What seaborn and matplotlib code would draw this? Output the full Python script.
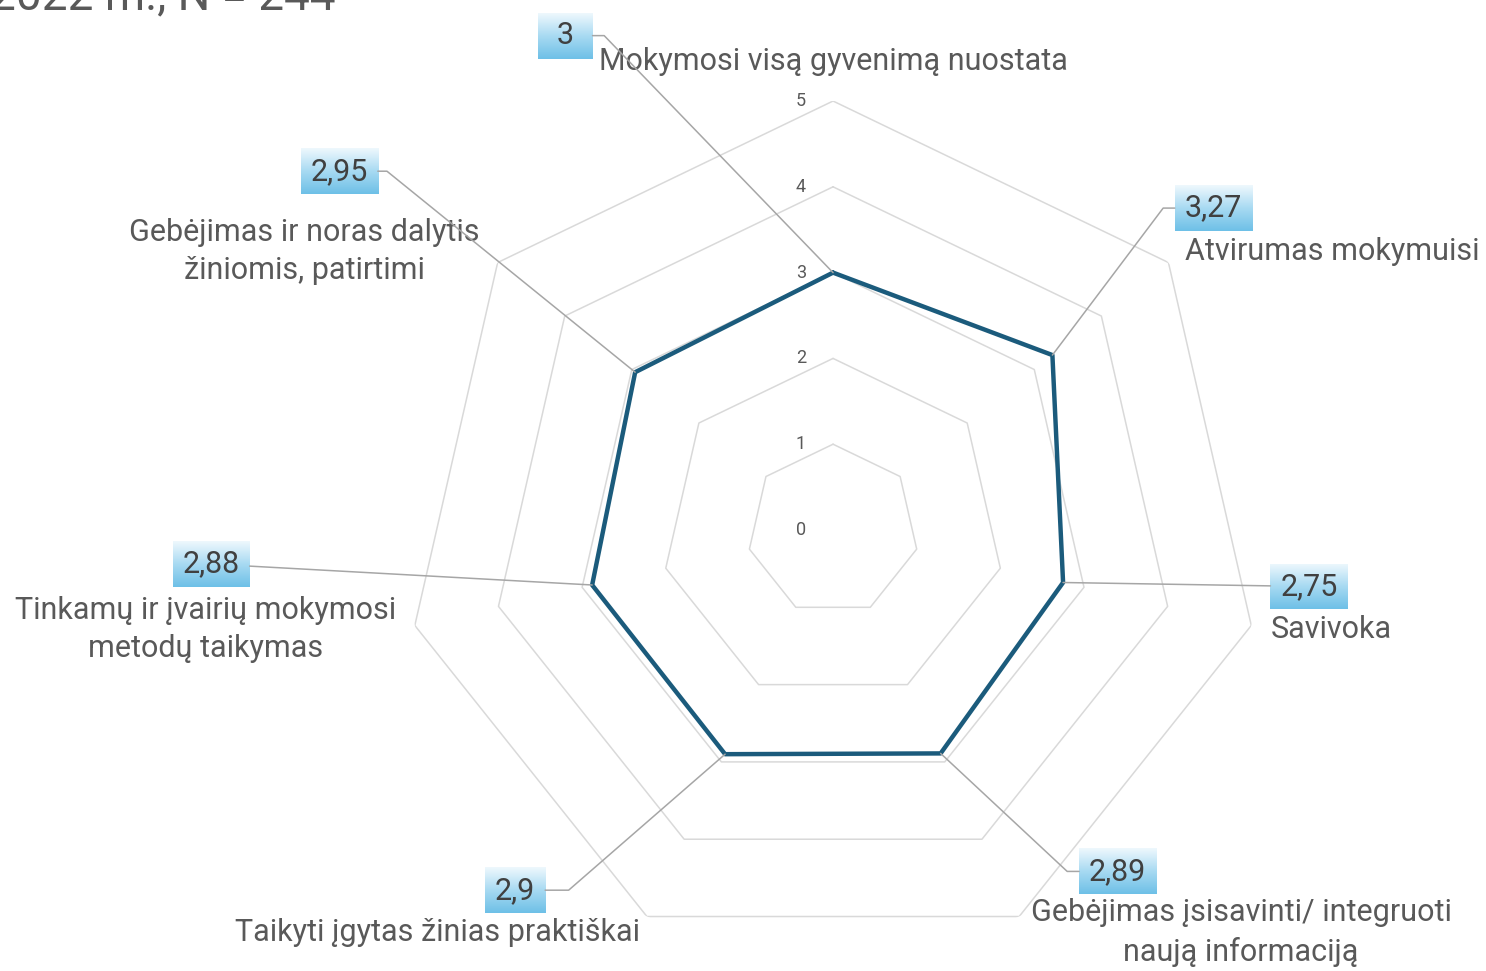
import numpy as np
import matplotlib
matplotlib.use('Agg')
import matplotlib.pyplot as plt
from matplotlib.path import Path
from matplotlib.colors import LinearSegmentedColormap
import seaborn as sns
import pandas as pd

categories = ['Mokymosi visą gyvenimą nuostata',
              'Atvirumas mokymuisi',
              'Savivoka',
              'Gebėjimas įsisavinti/ integruoti\nnaują informaciją',
              'Taikyti įgytas žinias praktiškai',
              'Tinkamų ir įvairių mokymosi\nmetodų taikymas',
              'Gebėjimas ir noras dalytis\nžiniomis, patirtimi']
values = [3, 3.27, 2.75, 2.89, 2.9, 2.88, 2.95]
value_labels = ['3', '3,27', '2,75', '2,89', '2,9', '2,88', '2,95']
ring_levels = [0, 1, 2, 3, 4, 5]
title_text = '2022 m., N = 244'

# where the labels sit (pixel offsets from data point / outer ring vertex)
value_offsets = [(-268, 237), (161, 147), (246, -4), (177, -118),
                 (-210, -136), (-381, 21), (-296, 201)]
value_links = ['angle,angleA=0,angleB=134,rad=0', 'angle,angleA=0,angleB=53,rad=0', 'arc3',
               'angle,angleA=0,angleB=-43,rad=0', 'angle,angleA=0,angleB=41,rad=0', 'arc3',
               'angle,angleA=0,angleB=141,rad=0']
cat_offsets = [(0, 40), (164, 11), (80, -4), (222, -16), (-209, -16), (-209, -4), (-193, 11)]

sns.set_theme(style='white')
plt.rcParams['font.family'] = ['Roboto', 'DejaVu Sans']

n = len(categories)
theta = np.linspace(0, 2 * np.pi, n, endpoint=False)
theta_closed = np.append(theta, theta[0])

fig = plt.figure(figsize=(14.86, 9.71), dpi=100)
ax = fig.add_axes([0.2719, 0.01236, 0.5774, 0.8836], projection='polar')
ax.set_theta_zero_location('N')
ax.set_theta_direction(-1)
ax.patch.set_visible(False)

# heptagon grid
for lev in ring_levels[1:]:
    ax.plot(theta_closed, [lev] * (n + 1), color='#d9d9d9', linewidth=1.1, zorder=1)

df = pd.DataFrame({'theta': theta_closed, 'value': np.append(values, values[0])})
sns.lineplot(data=df, x='theta', y='value', sort=False, estimator=None, ax=ax,
             color='#1b5b7c', linewidth=3.2, zorder=3)

ax.set_ylim(0, 5)
ax.grid(False)
ax.spines['polar'].set_visible(False)
ax.set_xticks([])
ax.set_yticks([])
ax.set_xlabel('')
ax.set_ylabel('')

for lev in ring_levels:
    ax.annotate(str(lev), xy=(0, lev), xytext=(-32, 0), textcoords='offset pixels',
                ha='center', va='center', fontsize=13, color='#595959')

for t, lab, off in zip(theta, categories, cat_offsets):
    ax.annotate(lab, xy=(t, 5), xytext=off, textcoords='offset pixels',
                ha='center', va='center', fontsize=22, color='#595959',
                linespacing=1.38, annotation_clip=False)


def label_box(x0, y0, width, height, mutation_size):
    w = max(width + 0.65 * mutation_size, 1.8 * mutation_size)
    h = 1.5 * mutation_size
    cx, cy = x0 + width / 2, y0 + height / 2
    l, r, b, tp = cx - w / 2, cx + w / 2, cy - h / 2, cy + h / 2
    return Path([(l, b), (r, b), (r, tp), (l, tp), (l, b)], closed=True)


value_anns = []
for t, v, lab, off, link in zip(theta, values, value_labels, value_offsets, value_links):
    a = ax.annotate(lab, xy=(t, v), xytext=off, textcoords='offset pixels',
                    ha='center', va='center', fontsize=22, color='#404040',
                    bbox=dict(boxstyle=label_box, fc='none', ec='none'),
                    arrowprops=dict(arrowstyle='-', color='#a6a6a6', lw=1.1,
                                    connectionstyle=link, shrinkA=0, shrinkB=0),
                    annotation_clip=False, zorder=4)
    value_anns.append(a)

fig.text(-0.007, 1 - 9 / 971, title_text, fontsize=33, color='#595959',
         ha='left', va='baseline')

# gradient fill behind value labels
fig.canvas.draw()
renderer = fig.canvas.get_renderer()
cmap = LinearSegmentedColormap.from_list('box', ['#eef8fd', '#a8daf2', '#6ec0e7'])
grad = np.linspace(0, 1, 64).reshape(-1, 1)
inv = fig.transFigure.inverted()
for a in value_anns:
    bb = a.get_bbox_patch().get_window_extent(renderer)
    (x0, y0), (x1, y1) = inv.transform([(bb.x0, bb.y0), (bb.x1, bb.y1)])
    gax = fig.add_axes([x0, y0, x1 - x0, y1 - y0], zorder=-1)
    gax.imshow(grad, aspect='auto', cmap=cmap, origin='upper')
    gax.axis('off')

fig.savefig('out.png', dpi=100, facecolor='white')
